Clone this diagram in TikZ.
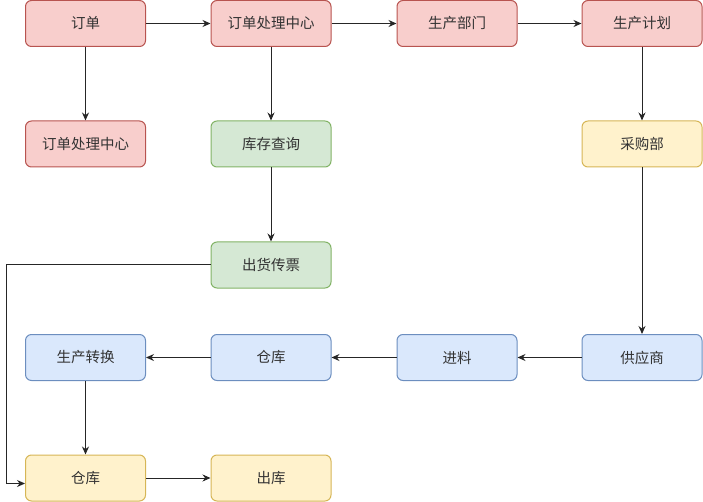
\documentclass[tikz,border=0pt]{standalone}
\usepackage{fontspec}
\setmainfont{Noto Sans CJK SC}
\usetikzlibrary{arrows.meta}
\definecolor{redF}{HTML}{F8CECC}\definecolor{redD}{HTML}{B85450}
\definecolor{grnF}{HTML}{D5E8D4}\definecolor{grnD}{HTML}{82B366}
\definecolor{bluF}{HTML}{DAE8FC}\definecolor{bluD}{HTML}{6C8EBF}
\definecolor{ylwF}{HTML}{FFF2CC}\definecolor{ylwD}{HTML}{D6B656}
\definecolor{txt}{HTML}{333333}
\tikzset{
  box/.style={draw, line width=1pt, rounded corners=6pt, minimum width=120pt, minimum height=46pt,
    inner sep=0pt, text=txt, font=\fontsize{14.5}{17}\selectfont},
  redbox/.style={box, fill=redF, draw=redD},
  grnbox/.style={box, fill=grnF, draw=grnD},
  blubox/.style={box, fill=bluF, draw=bluD},
  ylwbox/.style={box, fill=ylwF, draw=ylwD},
  arr/.style={draw=black!85, line width=1pt, -{Stealth[length=8pt,width=7pt]}},
}
\begin{document}
\begin{tikzpicture}[x=1pt,y=-1pt]
\useasboundingbox (0,0) rectangle (703,502);
% row 1
\node[redbox] (dd)   at (85.5,23.5) {订单};
\node[redbox] (ddzx) at (271,23.5) {订单处理中心};
\node[redbox] (scbm) at (457,23.5) {生产部门};
\node[redbox] (scjh) at (642,23.5) {生产计划};
% row 2
\node[redbox] (ddzx2) at (85.5,144) {订单处理中心};
\node[grnbox] (kccx)  at (271,144) {库存查询};
\node[ylwbox] (cgb)   at (642,144) {采购部};
% row 3
\node[grnbox] (chcp)  at (271,265) {出货传票};
% row 4
\node[blubox] (sczh)  at (85.5,357.5) {生产转换};
\node[blubox] (ck1)   at (271,357.5) {仓库};
\node[blubox] (jl)    at (457,357.5) {进料};
\node[blubox] (gys)   at (642,357.5) {供应商};
% row 5
\node[ylwbox] (ck2)   at (85.5,478) {仓库};
\node[ylwbox] (chk)   at (271,478) {出库};
% connectors
\draw[arr] (dd) -- (ddzx);
\draw[arr] (dd) -- (ddzx2);
\draw[arr] (ddzx) -- (scbm);
\draw[arr] (scbm) -- (scjh);
\draw[arr] (ddzx) -- (kccx);
\draw[arr] (kccx) -- (chcp);
\draw[arr] (scjh) -- (cgb);
\draw[arr] (cgb) -- (gys);
\draw[arr] (gys) -- (jl);
\draw[arr] (jl) -- (ck1);
\draw[arr] (ck1) -- (sczh);
\draw[arr] (sczh) -- (ck2);
\draw[arr] (ck2) -- (chk);
\coordinate (c1) at (6.5,265);
\coordinate (c2) at (6.5,483.5);
\draw[arr] (chcp.west) -- (c1) -- (c2) -- (c2 -| ck2.west);
\end{tikzpicture}
\end{document}
